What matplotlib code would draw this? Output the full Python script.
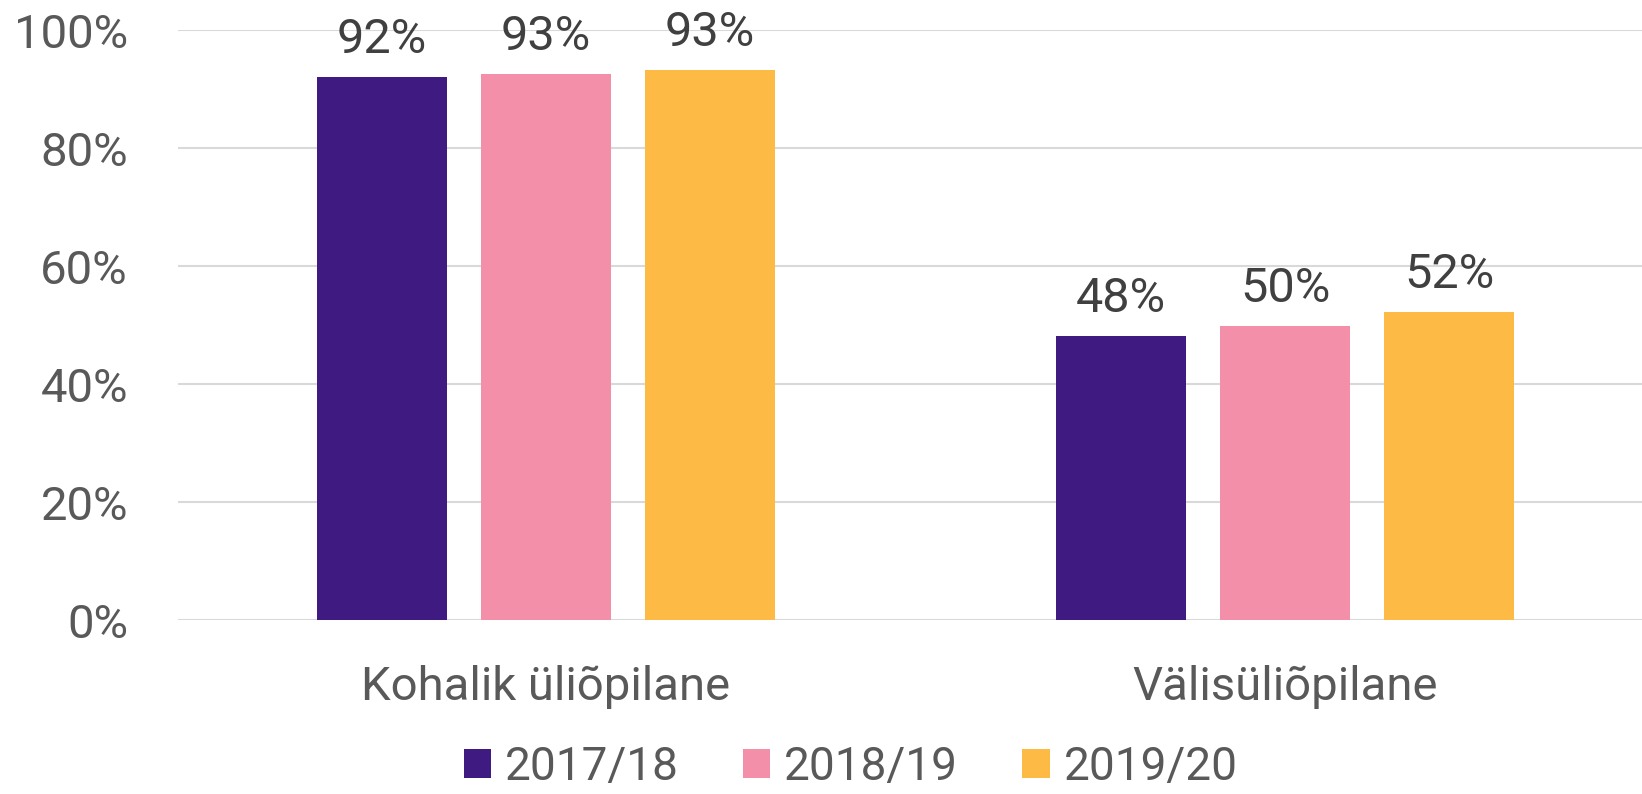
import matplotlib.pyplot as plt
import numpy as np

# data
categories = ['Kohalik üliõpilane', 'Välisüliõpilane']
years = ['2017/18', '2018/19', '2019/20']
values_2017 = [92.0, 48.2]
values_2018 = [92.6, 49.8]
values_2019 = [93.3, 52.3]
labels_2017 = ['92%', '48%']
labels_2018 = ['93%', '50%']
labels_2019 = ['93%', '52%']
yticks = [0, 20, 40, 60, 80, 100]

colors = ['#3F1A81', '#F48FAA', '#FDBA45']
plt.rcParams['font.family'] = ['Roboto', 'DejaVu Sans']

fig = plt.figure(figsize=(16.42, 7.94), dpi=100)
ax = fig.add_axes([0.1084, 0.219, 0.8916, 0.743])

x = np.arange(len(categories))
pitch = 0.222
width = 0.175
series = [(values_2017, labels_2017), (values_2018, labels_2018), (values_2019, labels_2019)]

for i, ((vals, labs), year, col) in enumerate(zip(series, years, colors)):
    bars = ax.bar(x + (i - 1) * pitch, vals, width, color=col, label=year)
    for b, lab in zip(bars, labs):
        ax.annotate(lab, (b.get_x() + b.get_width() / 2, b.get_height()),
                    xytext=(0, 10), textcoords='offset points',
                    ha='center', va='bottom', fontsize=35, color='#404040')

ax.set_xlim(-0.498, 1.483)
ax.set_ylim(0, 100)
ax.set_yticks(yticks)
ax.set_yticklabels([f'{t}%' for t in yticks])
ax.set_xticks(x)
ax.set_xticklabels(categories)
ax.tick_params(axis='y', length=0, pad=36, labelsize=34, labelcolor='#595959')
ax.tick_params(axis='x', length=0, pad=32, labelsize=34, labelcolor='#595959')

ax.grid(axis='y', color='#D9D9D9', linewidth=1.5)
ax.set_axisbelow(True)
for s in ax.spines.values():
    s.set_visible(False)

fig.legend(loc='center', bbox_to_anchor=(0.518, 0.034), ncol=3, frameon=False,
           fontsize=33, labelcolor='#595959', handlelength=0.6, handleheight=0.6,
           handletextpad=0.3, columnspacing=1.4, borderpad=0.2)

plt.savefig('out.png', dpi=100)
